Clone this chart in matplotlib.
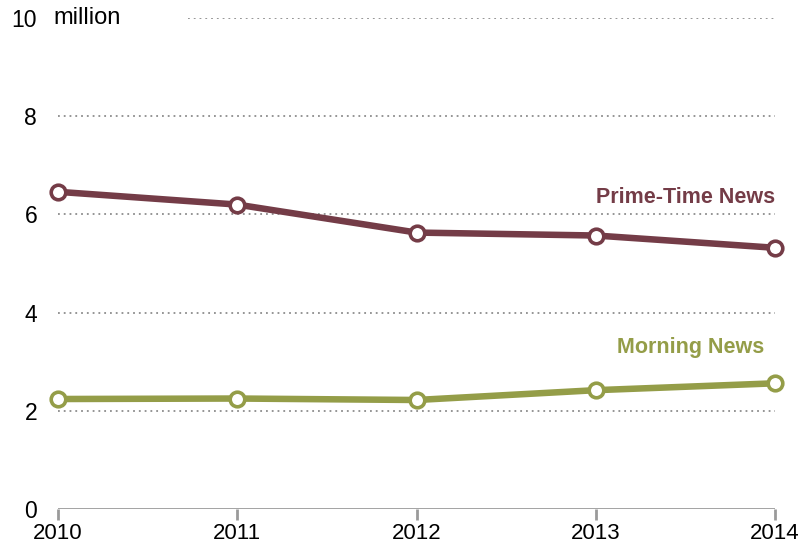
import matplotlib
matplotlib.use("Agg")
import matplotlib.pyplot as plt

years = [2010, 2011, 2012, 2013, 2014]
prime_time = [6.46, 6.20, 5.63, 5.57, 5.32]
morning = [2.24, 2.25, 2.22, 2.42, 2.56]
y_ticks = [0, 2, 4, 6, 8, 10]
x_labels = ["2010", "2011", "2012", "2013", "2014"]

W, H = 806, 547
fig = plt.figure(figsize=(W / 100, H / 100), dpi=100)
x0, x1 = 58, 775
y0, y1 = 509, 18
ax = fig.add_axes([x0 / W, (H - y0) / H, (x1 - x0) / W, (y0 - y1) / H])
ax.set_xlim(2010, 2014)
ax.set_ylim(0, 10)
for s in ax.spines.values():
    s.set_visible(False)

font = "Liberation Sans"
grid_c = "#8c8c8c"
for v in y_ticks[1:]:
    xs = 2010 if v != 10 else 2010 + (188 - x0) / (x1 - x0) * 4
    ax.plot([xs, 2014], [v, v], linestyle=(0, (1, 2.2)), color=grid_c, lw=1.3, zorder=1)
ax.axhline(0, color="#9a9a9a", lw=2, zorder=1)

ax.set_yticks(y_ticks)
ax.set_yticklabels([str(v) for v in y_ticks], fontsize=16.5, family=font)
ax.tick_params(axis="y", length=0, pad=15)
ax.set_xticks(years)
ax.set_xticklabels(x_labels, fontsize=16, family=font)
ax.tick_params(axis="x", length=8, width=2, color="#9a9a9a", direction="out", pad=2)

prime_c = "#743c47"
morn_c = "#949d48"
for vals, c in [(prime_time, prime_c), (morning, morn_c)]:
    ax.plot(years, vals, color=c, lw=4.7, marker="o", ms=10.5, mfc="white",
            mec=c, mew=2.6, clip_on=False, zorder=3, solid_capstyle="butt")

ax.text((53 - x0) / (x1 - x0), 10, "million", transform=ax.get_yaxis_transform(),
        fontsize=17, family=font, ha="left", va="center")
ax.text(2014, 6.35, "Prime-Time News", color=prime_c, fontsize=15.5, fontweight="bold",
        family=font, ha="right", va="center")
ax.text(2014 - 11 / (x1 - x0) * 4, 3.28, "Morning News", color=morn_c, fontsize=15.5,
        fontweight="bold", family=font, ha="right", va="center")

fig.savefig("out.png", dpi=100)
